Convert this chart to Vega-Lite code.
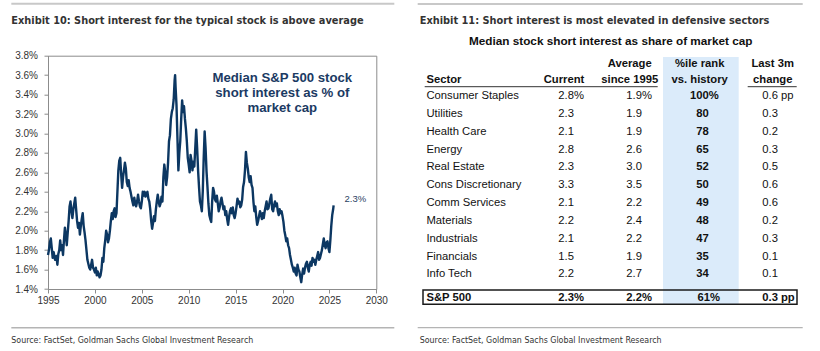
{
  "$schema": "https://vega.github.io/schema/vega-lite/v6.json",
  "background": "white",
  "padding": {"left": 9, "top": 1.7, "right": 5, "bottom": 5},
  "spacing": 20,
  "config": {"view": {"stroke": null}, "font": "Liberation Sans"},
  "datasets": {
    "series": [
      {"year":1995.0,"si":1.75},{"year":1995.1,"si":1.80},{"year":1995.2,"si":1.88},{"year":1995.3,"si":1.92},{"year":1995.4,"si":1.82},{"year":1995.5,"si":1.72},{"year":1995.6,"si":1.78},{"year":1995.75,"si":1.70},{"year":1995.9,"si":1.74},
      {"year":1996.0,"si":1.65},{"year":1996.1,"si":1.76},{"year":1996.2,"si":1.80},{"year":1996.3,"si":1.90},{"year":1996.4,"si":1.80},{"year":1996.5,"si":1.85},{"year":1996.6,"si":1.75},{"year":1996.7,"si":1.90},{"year":1996.8,"si":2.03},{"year":1996.9,"si":1.95},
      {"year":1997.0,"si":1.85},{"year":1997.1,"si":1.98},{"year":1997.2,"si":2.10},{"year":1997.3,"si":2.25},{"year":1997.4,"si":2.30},{"year":1997.5,"si":2.20},{"year":1997.6,"si":2.13},{"year":1997.7,"si":2.22},{"year":1997.8,"si":2.28},{"year":1997.9,"si":2.34},
      {"year":1998.0,"si":2.22},{"year":1998.1,"si":2.10},{"year":1998.2,"si":2.03},{"year":1998.3,"si":2.08},{"year":1998.4,"si":1.96},{"year":1998.5,"si":2.05},{"year":1998.6,"si":2.12},{"year":1998.7,"si":2.18},{"year":1998.8,"si":2.05},{"year":1998.9,"si":1.98},
      {"year":1999.0,"si":1.90},{"year":1999.1,"si":1.80},{"year":1999.2,"si":1.70},{"year":1999.3,"si":1.66},{"year":1999.4,"si":1.62},{"year":1999.5,"si":1.60},{"year":1999.6,"si":1.65},{"year":1999.7,"si":1.70},{"year":1999.8,"si":1.62},{"year":1999.9,"si":1.60},
      {"year":2000.0,"si":1.57},{"year":2000.1,"si":1.62},{"year":2000.2,"si":1.54},{"year":2000.3,"si":1.58},{"year":2000.4,"si":1.55},{"year":2000.5,"si":1.52},{"year":2000.6,"si":1.54},{"year":2000.7,"si":1.60},{"year":2000.8,"si":1.72},{"year":2000.9,"si":1.68},
      {"year":2001.0,"si":1.82},{"year":2001.1,"si":1.90},{"year":2001.2,"si":2.00},{"year":2001.3,"si":1.96},{"year":2001.4,"si":1.88},{"year":2001.5,"si":1.92},{"year":2001.6,"si":2.00},{"year":2001.7,"si":2.10},{"year":2001.8,"si":2.18},{"year":2001.9,"si":2.12},
      {"year":2002.0,"si":2.20},{"year":2002.1,"si":2.23},{"year":2002.2,"si":2.14},{"year":2002.3,"si":2.18},{"year":2002.4,"si":2.40},{"year":2002.5,"si":2.62},{"year":2002.6,"si":2.72},{"year":2002.7,"si":2.75},{"year":2002.8,"si":2.58},{"year":2002.9,"si":2.44},
      {"year":2003.0,"si":2.55},{"year":2003.1,"si":2.62},{"year":2003.2,"si":2.70},{"year":2003.3,"si":2.64},{"year":2003.4,"si":2.50},{"year":2003.5,"si":2.46},{"year":2003.6,"si":2.52},{"year":2003.7,"si":2.44},{"year":2003.8,"si":2.40},{"year":2003.9,"si":2.35},
      {"year":2004.0,"si":2.30},{"year":2004.1,"si":2.26},{"year":2004.2,"si":2.34},{"year":2004.3,"si":2.28},{"year":2004.4,"si":2.25},{"year":2004.5,"si":2.30},{"year":2004.6,"si":2.37},{"year":2004.7,"si":2.30},{"year":2004.8,"si":2.25},{"year":2004.9,"si":2.23},
      {"year":2005.0,"si":2.30},{"year":2005.1,"si":2.40},{"year":2005.2,"si":2.36},{"year":2005.3,"si":2.40},{"year":2005.4,"si":2.35},{"year":2005.5,"si":2.38},{"year":2005.6,"si":2.40},{"year":2005.7,"si":2.33},{"year":2005.8,"si":2.30},{"year":2005.9,"si":2.22},
      {"year":2006.0,"si":2.10},{"year":2006.1,"si":2.02},{"year":2006.2,"si":2.08},{"year":2006.3,"si":2.15},{"year":2006.4,"si":2.10},{"year":2006.5,"si":2.22},{"year":2006.6,"si":2.30},{"year":2006.7,"si":2.37},{"year":2006.8,"si":2.30},{"year":2006.9,"si":2.25},
      {"year":2007.0,"si":2.28},{"year":2007.1,"si":2.35},{"year":2007.2,"si":2.30},{"year":2007.3,"si":2.55},{"year":2007.4,"si":2.68},{"year":2007.5,"si":2.60},{"year":2007.6,"si":2.47},{"year":2007.7,"si":2.55},{"year":2007.8,"si":2.70},{"year":2007.9,"si":2.92},
      {"year":2008.0,"si":2.98},{"year":2008.1,"si":3.15},{"year":2008.2,"si":3.22},{"year":2008.3,"si":3.26},{"year":2008.4,"si":3.35},{"year":2008.5,"si":3.55},{"year":2008.55,"si":3.60},{"year":2008.6,"si":3.48},{"year":2008.7,"si":3.29},{"year":2008.8,"si":2.95},{"year":2008.9,"si":2.62},
      {"year":2009.0,"si":2.80},{"year":2009.1,"si":2.92},{"year":2009.2,"si":3.15},{"year":2009.3,"si":3.34},{"year":2009.4,"si":3.22},{"year":2009.5,"si":3.28},{"year":2009.6,"si":3.15},{"year":2009.7,"si":3.05},{"year":2009.8,"si":2.92},{"year":2009.9,"si":2.75},
      {"year":2010.0,"si":2.68},{"year":2010.1,"si":2.60},{"year":2010.2,"si":2.78},{"year":2010.3,"si":2.72},{"year":2010.4,"si":2.62},{"year":2010.5,"si":2.71},{"year":2010.6,"si":2.66},{"year":2010.7,"si":2.85},{"year":2010.8,"si":3.04},{"year":2010.9,"si":2.85},
      {"year":2011.0,"si":2.62},{"year":2011.1,"si":2.45},{"year":2011.2,"si":2.30},{"year":2011.3,"si":2.26},{"year":2011.4,"si":2.20},{"year":2011.5,"si":2.40},{"year":2011.6,"si":2.75},{"year":2011.7,"si":3.02},{"year":2011.8,"si":2.85},{"year":2011.9,"si":2.61},
      {"year":2012.0,"si":2.45},{"year":2012.1,"si":2.28},{"year":2012.2,"si":2.16},{"year":2012.3,"si":2.12},{"year":2012.4,"si":2.09},{"year":2012.5,"si":2.30},{"year":2012.6,"si":2.44},{"year":2012.7,"si":2.40},{"year":2012.8,"si":2.32},{"year":2012.9,"si":2.30},
      {"year":2013.0,"si":2.36},{"year":2013.1,"si":2.28},{"year":2013.2,"si":2.20},{"year":2013.3,"si":2.24},{"year":2013.4,"si":2.30},{"year":2013.5,"si":2.34},{"year":2013.6,"si":2.28},{"year":2013.7,"si":2.22},{"year":2013.8,"si":2.25},{"year":2013.9,"si":2.16},
      {"year":2014.0,"si":2.20},{"year":2014.1,"si":2.12},{"year":2014.2,"si":2.06},{"year":2014.3,"si":2.14},{"year":2014.4,"si":2.20},{"year":2014.5,"si":2.23},{"year":2014.6,"si":2.18},{"year":2014.7,"si":2.24},{"year":2014.8,"si":2.16},{"year":2014.9,"si":2.13},
      {"year":2015.0,"si":2.18},{"year":2015.1,"si":2.25},{"year":2015.2,"si":2.33},{"year":2015.3,"si":2.28},{"year":2015.4,"si":2.30},{"year":2015.5,"si":2.24},{"year":2015.6,"si":2.26},{"year":2015.7,"si":2.32},{"year":2015.8,"si":2.45},{"year":2015.9,"si":2.50},
      {"year":2016.0,"si":2.62},{"year":2016.1,"si":2.81},{"year":2016.2,"si":2.70},{"year":2016.3,"si":2.64},{"year":2016.4,"si":2.55},{"year":2016.5,"si":2.50},{"year":2016.6,"si":2.56},{"year":2016.7,"si":2.47},{"year":2016.8,"si":2.44},{"year":2016.9,"si":2.30},
      {"year":2017.0,"si":2.20},{"year":2017.1,"si":2.25},{"year":2017.2,"si":2.14},{"year":2017.3,"si":2.06},{"year":2017.4,"si":2.10},{"year":2017.5,"si":2.15},{"year":2017.6,"si":2.20},{"year":2017.7,"si":2.17},{"year":2017.8,"si":2.12},{"year":2017.9,"si":2.18},
      {"year":2018.0,"si":2.13},{"year":2018.1,"si":2.20},{"year":2018.2,"si":2.25},{"year":2018.3,"si":2.30},{"year":2018.4,"si":2.22},{"year":2018.5,"si":2.23},{"year":2018.6,"si":2.28},{"year":2018.7,"si":2.33},{"year":2018.8,"si":2.37},{"year":2018.9,"si":2.22},
      {"year":2019.0,"si":2.20},{"year":2019.1,"si":2.26},{"year":2019.2,"si":2.30},{"year":2019.3,"si":2.25},{"year":2019.4,"si":2.28},{"year":2019.5,"si":2.20},{"year":2019.6,"si":2.16},{"year":2019.7,"si":2.22},{"year":2019.8,"si":2.18},{"year":2019.9,"si":2.20},
      {"year":2020.0,"si":2.15},{"year":2020.1,"si":2.09},{"year":2020.2,"si":2.00},{"year":2020.3,"si":1.95},{"year":2020.4,"si":1.89},{"year":2020.5,"si":1.92},{"year":2020.6,"si":1.85},{"year":2020.7,"si":1.82},{"year":2020.8,"si":1.75},{"year":2020.9,"si":1.70},
      {"year":2021.0,"si":1.65},{"year":2021.1,"si":1.62},{"year":2021.2,"si":1.58},{"year":2021.3,"si":1.62},{"year":2021.4,"si":1.56},{"year":2021.5,"si":1.54},{"year":2021.6,"si":1.65},{"year":2021.7,"si":1.60},{"year":2021.8,"si":1.58},{"year":2021.9,"si":1.52},
      {"year":2022.0,"si":1.47},{"year":2022.1,"si":1.55},{"year":2022.2,"si":1.61},{"year":2022.3,"si":1.56},{"year":2022.4,"si":1.62},{"year":2022.5,"si":1.66},{"year":2022.6,"si":1.68},{"year":2022.7,"si":1.62},{"year":2022.8,"si":1.58},{"year":2022.9,"si":1.65},
      {"year":2023.0,"si":1.68},{"year":2023.1,"si":1.64},{"year":2023.2,"si":1.72},{"year":2023.3,"si":1.68},{"year":2023.4,"si":1.70},{"year":2023.5,"si":1.65},{"year":2023.6,"si":1.70},{"year":2023.7,"si":1.74},{"year":2023.8,"si":1.78},{"year":2023.9,"si":1.70},
      {"year":2024.0,"si":1.72},{"year":2024.1,"si":1.76},{"year":2024.2,"si":1.80},{"year":2024.3,"si":1.86},{"year":2024.4,"si":1.92},{"year":2024.5,"si":1.85},{"year":2024.6,"si":1.82},{"year":2024.7,"si":1.88},{"year":2024.8,"si":1.89},{"year":2024.9,"si":1.82},
      {"year":2025.0,"si":1.78},{"year":2025.1,"si":1.90},{"year":2025.2,"si":2.05},{"year":2025.3,"si":2.16},{"year":2025.4,"si":2.22},{"year":2025.45,"si":2.26}
    ],
    "table": [
      {"idx":1,"Sector":"Consumer Staples","Current":"2.8","Average":"1.9","Rank":"100","Change":"0.6"},
      {"idx":2,"Sector":"Utilities","Current":"2.3","Average":"1.9","Rank":"80","Change":"0.3"},
      {"idx":3,"Sector":"Health Care","Current":"2.1","Average":"1.9","Rank":"78","Change":"0.2"},
      {"idx":4,"Sector":"Energy","Current":"2.8","Average":"2.6","Rank":"65","Change":"0.3"},
      {"idx":5,"Sector":"Real Estate","Current":"2.3","Average":"3.0","Rank":"52","Change":"0.5"},
      {"idx":6,"Sector":"Cons Discretionary","Current":"3.3","Average":"3.5","Rank":"50","Change":"0.6"},
      {"idx":7,"Sector":"Comm Services","Current":"2.1","Average":"2.2","Rank":"49","Change":"0.6"},
      {"idx":8,"Sector":"Materials","Current":"2.2","Average":"2.4","Rank":"48","Change":"0.2"},
      {"idx":9,"Sector":"Industrials","Current":"2.1","Average":"2.2","Rank":"47","Change":"0.3"},
      {"idx":10,"Sector":"Financials","Current":"1.5","Average":"1.9","Rank":"35","Change":"0.1"},
      {"idx":11,"Sector":"Info Tech","Current":"2.2","Average":"2.7","Rank":"34","Change":"0.1"},
      {"idx":12,"Sector":"S&P 500","Current":"2.3","Average":"2.2","Rank":"61","Change":"0.3"}
    ],
    "units": [
      {"col":"Current","unit":"%"},
      {"col":"Average","unit":"%"},
      {"col":"Rank","unit":"%"},
      {"col":"Change","unit":"pp"}
    ]
  },
  "hconcat": [
    {
      "width": 328.3,
      "height": 233.3,
      "view": {"stroke": "#8c8c8c", "strokeWidth": 1},
      "layer": [
        {
          "data": {"name": "series"},
          "mark": {"type": "line", "color": "#0c3762", "strokeWidth": 2.4, "strokeJoin": "round"},
          "encoding": {
            "x": {"field": "year", "type": "quantitative", "title": null, "scale": {"domain": [1995, 2030], "nice": false, "zero": false},
              "axis": {"title": null, "values": [1995, 2000, 2005, 2010, 2015, 2020, 2025, 2030], "format": "d", "grid": false, "domainColor": "#8c8c8c", "tickColor": "#8c8c8c", "tickSize": 4, "labelFontSize": 10, "labelColor": "#333333", "labelPadding": 2, "labelFlush": false, "labelOverlap": false, "labelFont": "Liberation Sans"}},
            "y": {"field": "si", "type": "quantitative", "title": null, "scale": {"domain": [1.4, 3.8], "nice": false, "zero": false},
              "axis": {"title": null, "values": [1.4, 1.6, 1.8, 2.0, 2.2, 2.4, 2.6, 2.8, 3.0, 3.2, 3.4, 3.6, 3.8], "labelExpr": "format(datum.value, '.1f') + '%'", "grid": false, "domainColor": "#8c8c8c", "tickColor": "#8c8c8c", "tickSize": 4, "labelFontSize": 10, "labelColor": "#333333", "labelPadding": 6.5, "labelOverlap": false, "labelFont": "Liberation Sans"}}
          }
        },
        {
          "data": {"values": [{}]},
          "mark": {"type": "text", "text": ["Median S&P 500 stock", "short interest as % of", "market cap"], "font": "Liberation Sans", "fontWeight": "bold", "fontSize": 13.2, "lineHeight": 15.3, "color": "#1b3a63", "align": "center", "baseline": "middle"},
          "encoding": {
            "x": {"datum": 2019.98, "type": "quantitative", "title": null, "scale": {"domain": [1995, 2030], "nice": false, "zero": false},
              "axis": {"title": null, "values": [1995, 2000, 2005, 2010, 2015, 2020, 2025, 2030], "format": "d", "grid": false, "domainColor": "#8c8c8c", "tickColor": "#8c8c8c", "tickSize": 4, "labelFontSize": 10, "labelColor": "#333333", "labelPadding": 2, "labelFlush": false, "labelOverlap": false, "labelFont": "Liberation Sans"}},
            "y": {"datum": 3.574, "type": "quantitative", "title": null, "scale": {"domain": [1.4, 3.8], "nice": false, "zero": false},
              "axis": {"title": null, "values": [1.4, 1.6, 1.8, 2.0, 2.2, 2.4, 2.6, 2.8, 3.0, 3.2, 3.4, 3.6, 3.8], "labelExpr": "format(datum.value, '.1f') + '%'", "grid": false, "domainColor": "#8c8c8c", "tickColor": "#8c8c8c", "tickSize": 4, "labelFontSize": 10, "labelColor": "#333333", "labelPadding": 6.5, "labelOverlap": false, "labelFont": "Liberation Sans"}}
          }
        },
        {
          "data": {"values": [{}]},
          "mark": {"type": "text", "text": "2.3%", "font": "Liberation Sans", "fontSize": 9.5, "color": "#2b3f63", "align": "center", "baseline": "middle"},
          "encoding": {
            "x": {"datum": 2027.76, "type": "quantitative", "title": null, "scale": {"domain": [1995, 2030], "nice": false, "zero": false},
              "axis": {"title": null, "values": [1995, 2000, 2005, 2010, 2015, 2020, 2025, 2030], "format": "d", "grid": false, "domainColor": "#8c8c8c", "tickColor": "#8c8c8c", "tickSize": 4, "labelFontSize": 10, "labelColor": "#333333", "labelPadding": 2, "labelFlush": false, "labelOverlap": false, "labelFont": "Liberation Sans"}},
            "y": {"datum": 2.326, "type": "quantitative", "title": null, "scale": {"domain": [1.4, 3.8], "nice": false, "zero": false},
              "axis": {"title": null, "values": [1.4, 1.6, 1.8, 2.0, 2.2, 2.4, 2.6, 2.8, 3.0, 3.2, 3.4, 3.6, 3.8], "labelExpr": "format(datum.value, '.1f') + '%'", "grid": false, "domainColor": "#8c8c8c", "tickColor": "#8c8c8c", "tickSize": 4, "labelFontSize": 10, "labelColor": "#333333", "labelPadding": 6.5, "labelOverlap": false, "labelFont": "Liberation Sans"}}
          }
        },
        {
          "data": {"values": [{}]},
          "mark": {"type": "rule", "color": "#c8c8c8", "strokeWidth": 2},
          "encoding": {
            "x": {"datum": 1991.09, "type": "quantitative", "title": null, "scale": {"domain": [1995, 2030], "nice": false, "zero": false},
              "axis": {"title": null, "values": [1995, 2000, 2005, 2010, 2015, 2020, 2025, 2030], "format": "d", "grid": false, "domainColor": "#8c8c8c", "tickColor": "#8c8c8c", "tickSize": 4, "labelFontSize": 10, "labelColor": "#333333", "labelPadding": 2, "labelFlush": false, "labelOverlap": false, "labelFont": "Liberation Sans"}},
            "x2": {"datum": 2031.92},
            "y": {"datum": 4.335, "type": "quantitative", "title": null, "scale": {"domain": [1.4, 3.8], "nice": false, "zero": false},
              "axis": {"title": null, "values": [1.4, 1.6, 1.8, 2.0, 2.2, 2.4, 2.6, 2.8, 3.0, 3.2, 3.4, 3.6, 3.8], "labelExpr": "format(datum.value, '.1f') + '%'", "grid": false, "domainColor": "#8c8c8c", "tickColor": "#8c8c8c", "tickSize": 4, "labelFontSize": 10, "labelColor": "#333333", "labelPadding": 6.5, "labelOverlap": false, "labelFont": "Liberation Sans"}}
          }
        },
        {
          "data": {"values": [{}]},
          "mark": {"type": "rule", "color": "#b4b4b4", "strokeWidth": 1.3},
          "encoding": {
            "x": {"datum": 1991.09, "type": "quantitative", "title": null, "scale": {"domain": [1995, 2030], "nice": false, "zero": false},
              "axis": {"title": null, "values": [1995, 2000, 2005, 2010, 2015, 2020, 2025, 2030], "format": "d", "grid": false, "domainColor": "#8c8c8c", "tickColor": "#8c8c8c", "tickSize": 4, "labelFontSize": 10, "labelColor": "#333333", "labelPadding": 2, "labelFlush": false, "labelOverlap": false, "labelFont": "Liberation Sans"}},
            "x2": {"datum": 2031.92},
            "y": {"datum": 1.0016, "type": "quantitative", "title": null, "scale": {"domain": [1.4, 3.8], "nice": false, "zero": false},
              "axis": {"title": null, "values": [1.4, 1.6, 1.8, 2.0, 2.2, 2.4, 2.6, 2.8, 3.0, 3.2, 3.4, 3.6, 3.8], "labelExpr": "format(datum.value, '.1f') + '%'", "grid": false, "domainColor": "#8c8c8c", "tickColor": "#8c8c8c", "tickSize": 4, "labelFontSize": 10, "labelColor": "#333333", "labelPadding": 6.5, "labelOverlap": false, "labelFont": "Liberation Sans"}}
          }
        },
        {
          "data": {"values": [{}]},
          "mark": {"type": "text", "text": "Exhibit 10: Short interest for the typical stock is above average", "font": "DejaVu Sans Condensed", "fontWeight": "bold", "fontSize": 10.9, "color": "#333333", "align": "left", "baseline": "middle"},
          "encoding": {
            "x": {"datum": 1991.09, "type": "quantitative", "title": null, "scale": {"domain": [1995, 2030], "nice": false, "zero": false},
              "axis": {"title": null, "values": [1995, 2000, 2005, 2010, 2015, 2020, 2025, 2030], "format": "d", "grid": false, "domainColor": "#8c8c8c", "tickColor": "#8c8c8c", "tickSize": 4, "labelFontSize": 10, "labelColor": "#333333", "labelPadding": 2, "labelFlush": false, "labelOverlap": false, "labelFont": "Liberation Sans"}},
            "y": {"datum": 4.157, "type": "quantitative", "title": null, "scale": {"domain": [1.4, 3.8], "nice": false, "zero": false},
              "axis": {"title": null, "values": [1.4, 1.6, 1.8, 2.0, 2.2, 2.4, 2.6, 2.8, 3.0, 3.2, 3.4, 3.6, 3.8], "labelExpr": "format(datum.value, '.1f') + '%'", "grid": false, "domainColor": "#8c8c8c", "tickColor": "#8c8c8c", "tickSize": 4, "labelFontSize": 10, "labelColor": "#333333", "labelPadding": 6.5, "labelOverlap": false, "labelFont": "Liberation Sans"}}
          }
        },
        {
          "data": {"values": [{}]},
          "mark": {"type": "text", "text": "Source: FactSet, Goldman Sachs Global Investment Research", "font": "DejaVu Sans Condensed", "fontSize": 8.8, "color": "#333333", "align": "left", "baseline": "middle"},
          "encoding": {
            "x": {"datum": 1991.09, "type": "quantitative", "title": null, "scale": {"domain": [1995, 2030], "nice": false, "zero": false},
              "axis": {"title": null, "values": [1995, 2000, 2005, 2010, 2015, 2020, 2025, 2030], "format": "d", "grid": false, "domainColor": "#8c8c8c", "tickColor": "#8c8c8c", "tickSize": 4, "labelFontSize": 10, "labelColor": "#333333", "labelPadding": 2, "labelFlush": false, "labelOverlap": false, "labelFont": "Liberation Sans"}},
            "y": {"datum": 0.88, "type": "quantitative", "title": null, "scale": {"domain": [1.4, 3.8], "nice": false, "zero": false},
              "axis": {"title": null, "values": [1.4, 1.6, 1.8, 2.0, 2.2, 2.4, 2.6, 2.8, 3.0, 3.2, 3.4, 3.6, 3.8], "labelExpr": "format(datum.value, '.1f') + '%'", "grid": false, "domainColor": "#8c8c8c", "tickColor": "#8c8c8c", "tickSize": 4, "labelFontSize": 10, "labelColor": "#333333", "labelPadding": 6.5, "labelOverlap": false, "labelFont": "Liberation Sans"}}
          }
        }
      ]
    },
    {
      "width": 272,
      "height": 233.3,
      "view": {"stroke": null},
      "layer": [
        {
          "data": {"values": [{}]},
          "mark": {"type": "rect", "color": "#dbebfa", "xOffset": -47, "x2Offset": 28.7},
          "encoding": {
            "x": {"datum": "Rank", "type": "nominal", "scale": {"type": "point", "domain": ["Sector", "Current", "Average", "Rank", "Change"], "padding": 0}, "axis": null},
            "x2": {"datum": "Rank"},
            "y": {"datum": -1.187, "type": "quantitative", "scale": {"domain": [-1.26, 11.82], "nice": false, "zero": false, "reverse": true}, "axis": null},
            "y2": {"datum": 12.678}
          }
        },
        {
          "data": {"values": [{}]},
          "mark": {"type": "rect", "fill": "white", "fillOpacity": 0, "stroke": "#1a1a1a", "strokeWidth": 1.5, "xOffset": -83, "x2Offset": 19},
          "encoding": {
            "x": {"datum": "Sector", "type": "nominal", "scale": {"type": "point", "domain": ["Sector", "Current", "Average", "Rank", "Change"], "padding": 0}, "axis": null},
            "x2": {"datum": "Change"},
            "y": {"datum": 11.876, "type": "quantitative", "scale": {"domain": [-1.26, 11.82], "nice": false, "zero": false, "reverse": true}, "axis": null},
            "y2": {"datum": 12.678}
          }
        },
        {
          "data": {"values": [{}]},
          "mark": {"type": "rule", "color": "#c8c8c8", "strokeWidth": 2, "xOffset": -88.3, "x2Offset": 24.7},
          "encoding": {
            "x": {"datum": "Sector", "type": "nominal", "scale": {"type": "point", "domain": ["Sector", "Current", "Average", "Rank", "Change"], "padding": 0}, "axis": null},
            "x2": {"datum": "Change"},
            "y": {"datum": -4.159, "type": "quantitative", "scale": {"domain": [-1.26, 11.82], "nice": false, "zero": false, "reverse": true}, "axis": null}
          }
        },
        {
          "data": {"values": [{}]},
          "mark": {"type": "rule", "color": "#b4b4b4", "strokeWidth": 1.3, "xOffset": -88.3, "x2Offset": 24.7},
          "encoding": {
            "x": {"datum": "Sector", "type": "nominal", "scale": {"type": "point", "domain": ["Sector", "Current", "Average", "Rank", "Change"], "padding": 0}, "axis": null},
            "x2": {"datum": "Change"},
            "y": {"datum": 13.99, "type": "quantitative", "scale": {"domain": [-1.26, 11.82], "nice": false, "zero": false, "reverse": true}, "axis": null}
          }
        },
        {
          "data": {"values": [{}]},
          "mark": {"type": "rule", "color": "#333333", "strokeWidth": 1, "xOffset": -81.3, "x2Offset": 15.7},
          "encoding": {
            "x": {"datum": "Sector", "type": "nominal", "scale": {"type": "point", "domain": ["Sector", "Current", "Average", "Rank", "Change"], "padding": 0}, "axis": null},
            "x2": {"datum": "Average"},
            "y": {"datum": 0.478, "type": "quantitative", "scale": {"domain": [-1.26, 11.82], "nice": false, "zero": false, "reverse": true}, "axis": null}
          }
        },
        {
          "data": {"values": [{}]},
          "mark": {"type": "rule", "color": "#333333", "strokeWidth": 1, "xOffset": -30.3, "x2Offset": 18.7},
          "encoding": {
            "x": {"datum": "Change", "type": "nominal", "scale": {"type": "point", "domain": ["Sector", "Current", "Average", "Rank", "Change"], "padding": 0}, "axis": null},
            "x2": {"datum": "Change"},
            "y": {"datum": 0.478, "type": "quantitative", "scale": {"domain": [-1.26, 11.82], "nice": false, "zero": false, "reverse": true}, "axis": null}
          }
        },
        {
          "data": {"values": [{}]},
          "mark": {"type": "text", "text": "Exhibit 11: Short interest is most elevated in defensive sectors", "font": "DejaVu Sans Condensed", "fontWeight": "bold", "fontSize": 10.9, "color": "#333333", "align": "left", "baseline": "middle", "dx": -86.3},
          "encoding": {
            "x": {"datum": "Sector", "type": "nominal", "scale": {"type": "point", "domain": ["Sector", "Current", "Average", "Rank", "Change"], "padding": 0}, "axis": null},
            "y": {"datum": -3.206, "type": "quantitative", "scale": {"domain": [-1.26, 11.82], "nice": false, "zero": false, "reverse": true}, "axis": null}
          }
        },
        {
          "data": {"values": [{}]},
          "mark": {"type": "text", "text": "Median stock short interest as share of market cap", "font": "Liberation Sans", "fontWeight": "bold", "fontSize": 11.75, "color": "#111111", "align": "center", "baseline": "middle", "dx": 36.7},
          "encoding": {
            "x": {"datum": "Current", "type": "nominal", "scale": {"type": "point", "domain": ["Sector", "Current", "Average", "Rank", "Change"], "padding": 0}, "axis": null},
            "y": {"datum": -2.084, "type": "quantitative", "scale": {"domain": [-1.26, 11.82], "nice": false, "zero": false, "reverse": true}, "axis": null}
          }
        },
        {
          "data": {"values": [{}]},
          "mark": {"type": "text", "text": "Sector", "font": "Liberation Sans", "fontWeight": "bold", "fontSize": 11.25, "color": "#111111", "align": "left", "baseline": "middle", "dx": -79.6},
          "encoding": {
            "x": {"datum": "Sector", "type": "nominal", "scale": {"type": "point", "domain": ["Sector", "Current", "Average", "Rank", "Change"], "padding": 0}, "axis": null},
            "y": {"datum": 0.102, "type": "quantitative", "scale": {"domain": [-1.26, 11.82], "nice": false, "zero": false, "reverse": true}, "axis": null}
          }
        },
        {
          "data": {"values": [{}]},
          "mark": {"type": "text", "text": "Current", "font": "Liberation Sans", "fontWeight": "bold", "fontSize": 11.25, "color": "#111111", "align": "center", "baseline": "middle", "dx": -10},
          "encoding": {
            "x": {"datum": "Current", "type": "nominal", "scale": {"type": "point", "domain": ["Sector", "Current", "Average", "Rank", "Change"], "padding": 0}, "axis": null},
            "y": {"datum": 0.102, "type": "quantitative", "scale": {"domain": [-1.26, 11.82], "nice": false, "zero": false, "reverse": true}, "axis": null}
          }
        },
        {
          "data": {"values": [{}]},
          "mark": {"type": "text", "text": ["Average", "since 1995"], "font": "Liberation Sans", "fontWeight": "bold", "fontSize": 11.25, "lineHeight": 15.7, "color": "#111111", "align": "center", "baseline": "middle", "dx": -12.3},
          "encoding": {
            "x": {"datum": "Average", "type": "nominal", "scale": {"type": "point", "domain": ["Sector", "Current", "Average", "Rank", "Change"], "padding": 0}, "axis": null},
            "y": {"datum": -0.778, "type": "quantitative", "scale": {"domain": [-1.26, 11.82], "nice": false, "zero": false, "reverse": true}, "axis": null}
          }
        },
        {
          "data": {"values": [{}]},
          "mark": {"type": "text", "text": ["%ile rank", "vs. history"], "font": "Liberation Sans", "fontWeight": "bold", "fontSize": 11.25, "lineHeight": 15.7, "color": "#111111", "align": "center", "baseline": "middle", "dx": -10.3},
          "encoding": {
            "x": {"datum": "Rank", "type": "nominal", "scale": {"type": "point", "domain": ["Sector", "Current", "Average", "Rank", "Change"], "padding": 0}, "axis": null},
            "y": {"datum": -0.778, "type": "quantitative", "scale": {"domain": [-1.26, 11.82], "nice": false, "zero": false, "reverse": true}, "axis": null}
          }
        },
        {
          "data": {"values": [{}]},
          "mark": {"type": "text", "text": ["Last 3m", "change"], "font": "Liberation Sans", "fontWeight": "bold", "fontSize": 11.25, "lineHeight": 15.7, "color": "#111111", "align": "center", "baseline": "middle", "dx": -5.3},
          "encoding": {
            "x": {"datum": "Change", "type": "nominal", "scale": {"type": "point", "domain": ["Sector", "Current", "Average", "Rank", "Change"], "padding": 0}, "axis": null},
            "y": {"datum": -0.778, "type": "quantitative", "scale": {"domain": [-1.26, 11.82], "nice": false, "zero": false, "reverse": true}, "axis": null}
          }
        },
        {
          "data": {"name": "table"},
          "transform": [{"filter": "datum.idx < 12"}],
          "mark": {"type": "text", "font": "Liberation Sans", "fontSize": 11.25, "color": "#111111", "align": "left", "baseline": "middle", "dx": -79.6},
          "encoding": {
            "x": {"datum": "Sector", "type": "nominal", "scale": {"type": "point", "domain": ["Sector", "Current", "Average", "Rank", "Change"], "padding": 0}, "axis": null},
            "y": {"field": "idx", "type": "quantitative", "scale": {"domain": [-1.26, 11.82], "nice": false, "zero": false, "reverse": true}, "axis": null},
            "text": {"field": "Sector", "type": "nominal"}
          }
        },
        {
          "data": {"name": "table"},
          "transform": [{"filter": "datum.idx == 12"}],
          "mark": {"type": "text", "font": "Liberation Sans", "fontWeight": "bold", "fontSize": 11.25, "color": "#111111", "align": "left", "baseline": "middle", "dx": -79.6, "dy": 5.5},
          "encoding": {
            "x": {"datum": "Sector", "type": "nominal", "scale": {"type": "point", "domain": ["Sector", "Current", "Average", "Rank", "Change"], "padding": 0}, "axis": null},
            "y": {"field": "idx", "type": "quantitative", "scale": {"domain": [-1.26, 11.82], "nice": false, "zero": false, "reverse": true}, "axis": null},
            "text": {"field": "Sector", "type": "nominal"}
          }
        },
        {
          "data": {"name": "table"},
          "transform": [{"filter": "datum.idx < 12"}, {"fold": ["Current", "Average", "Change"], "as": ["col", "num"]}],
          "mark": {"type": "text", "font": "Liberation Sans", "fontSize": 11.25, "color": "#111111", "align": "right", "baseline": "middle"},
          "encoding": {
            "x": {"field": "col", "type": "nominal", "scale": {"type": "point", "domain": ["Sector", "Current", "Average", "Rank", "Change"], "padding": 0}, "axis": null},
            "y": {"field": "idx", "type": "quantitative", "scale": {"domain": [-1.26, 11.82], "nice": false, "zero": false, "reverse": true}, "axis": null},
            "text": {"field": "num", "type": "nominal"}
          }
        },
        {
          "data": {"name": "table"},
          "transform": [{"filter": "datum.idx < 12"}],
          "mark": {"type": "text", "font": "Liberation Sans", "fontWeight": "bold", "fontSize": 11.25, "color": "#111111", "align": "right", "baseline": "middle", "dx": -1.3},
          "encoding": {
            "x": {"datum": "Rank", "type": "nominal", "scale": {"type": "point", "domain": ["Sector", "Current", "Average", "Rank", "Change"], "padding": 0}, "axis": null},
            "y": {"field": "idx", "type": "quantitative", "scale": {"domain": [-1.26, 11.82], "nice": false, "zero": false, "reverse": true}, "axis": null},
            "text": {"field": "Rank", "type": "nominal"}
          }
        },
        {
          "data": {"name": "table"},
          "transform": [{"filter": "datum.idx == 12"}, {"fold": ["Current", "Average", "Rank", "Change"], "as": ["col", "num"]}],
          "mark": {"type": "text", "font": "Liberation Sans", "fontWeight": "bold", "fontSize": 11.25, "color": "#111111", "align": "right", "baseline": "middle", "dy": 5.5},
          "encoding": {
            "x": {"field": "col", "type": "nominal", "scale": {"type": "point", "domain": ["Sector", "Current", "Average", "Rank", "Change"], "padding": 0}, "axis": null},
            "y": {"field": "idx", "type": "quantitative", "scale": {"domain": [-1.26, 11.82], "nice": false, "zero": false, "reverse": true}, "axis": null},
            "text": {"field": "num", "type": "nominal"}
          }
        },
        {
          "data": {"name": "units"},
          "transform": [{"filter": "datum.col == 'Current' || datum.col == 'Average'"}],
          "mark": {"type": "text", "font": "Liberation Sans", "fontSize": 11.25, "color": "#111111", "align": "left", "baseline": "middle"},
          "encoding": {
            "x": {"field": "col", "type": "nominal", "scale": {"type": "point", "domain": ["Sector", "Current", "Average", "Rank", "Change"], "padding": 0}, "axis": null},
            "y": {"datum": 1, "type": "quantitative", "scale": {"domain": [-1.26, 11.82], "nice": false, "zero": false, "reverse": true}, "axis": null},
            "text": {"field": "unit", "type": "nominal"}
          }
        },
        {
          "data": {"name": "units"},
          "transform": [{"filter": "datum.col == 'Change'"}],
          "mark": {"type": "text", "font": "Liberation Sans", "fontSize": 11.25, "color": "#111111", "align": "left", "baseline": "middle", "dx": 3},
          "encoding": {
            "x": {"field": "col", "type": "nominal", "scale": {"type": "point", "domain": ["Sector", "Current", "Average", "Rank", "Change"], "padding": 0}, "axis": null},
            "y": {"datum": 1, "type": "quantitative", "scale": {"domain": [-1.26, 11.82], "nice": false, "zero": false, "reverse": true}, "axis": null},
            "text": {"field": "unit", "type": "nominal"}
          }
        },
        {
          "data": {"name": "units"},
          "transform": [{"filter": "datum.col == 'Rank'"}],
          "mark": {"type": "text", "font": "Liberation Sans", "fontWeight": "bold", "fontSize": 11.25, "color": "#111111", "align": "left", "baseline": "middle", "dx": -1.3},
          "encoding": {
            "x": {"field": "col", "type": "nominal", "scale": {"type": "point", "domain": ["Sector", "Current", "Average", "Rank", "Change"], "padding": 0}, "axis": null},
            "y": {"datum": 1, "type": "quantitative", "scale": {"domain": [-1.26, 11.82], "nice": false, "zero": false, "reverse": true}, "axis": null},
            "text": {"field": "unit", "type": "nominal"}
          }
        },
        {
          "data": {"name": "units"},
          "transform": [{"filter": "datum.col != 'Change'"}],
          "mark": {"type": "text", "font": "Liberation Sans", "fontWeight": "bold", "fontSize": 11.25, "color": "#111111", "align": "left", "baseline": "middle", "dy": 5.5},
          "encoding": {
            "x": {"field": "col", "type": "nominal", "scale": {"type": "point", "domain": ["Sector", "Current", "Average", "Rank", "Change"], "padding": 0}, "axis": null},
            "y": {"datum": 12, "type": "quantitative", "scale": {"domain": [-1.26, 11.82], "nice": false, "zero": false, "reverse": true}, "axis": null},
            "text": {"field": "unit", "type": "nominal"}
          }
        },
        {
          "data": {"name": "units"},
          "transform": [{"filter": "datum.col == 'Change'"}],
          "mark": {"type": "text", "font": "Liberation Sans", "fontWeight": "bold", "fontSize": 11.25, "color": "#111111", "align": "left", "baseline": "middle", "dy": 5.5, "dx": 3},
          "encoding": {
            "x": {"field": "col", "type": "nominal", "scale": {"type": "point", "domain": ["Sector", "Current", "Average", "Rank", "Change"], "padding": 0}, "axis": null},
            "y": {"datum": 12, "type": "quantitative", "scale": {"domain": [-1.26, 11.82], "nice": false, "zero": false, "reverse": true}, "axis": null},
            "text": {"field": "unit", "type": "nominal"}
          }
        },
        {
          "data": {"values": [{}]},
          "mark": {"type": "text", "text": "Source: FactSet, Goldman Sachs Global Investment Research", "font": "DejaVu Sans Condensed", "fontSize": 8.8, "color": "#333333", "align": "left", "baseline": "middle", "dx": -86.3},
          "encoding": {
            "x": {"datum": "Sector", "type": "nominal", "scale": {"type": "point", "domain": ["Sector", "Current", "Average", "Rank", "Change"], "padding": 0}, "axis": null},
            "y": {"datum": 14.66, "type": "quantitative", "scale": {"domain": [-1.26, 11.82], "nice": false, "zero": false, "reverse": true}, "axis": null}
          }
        }
      ]
    }
  ]
}
